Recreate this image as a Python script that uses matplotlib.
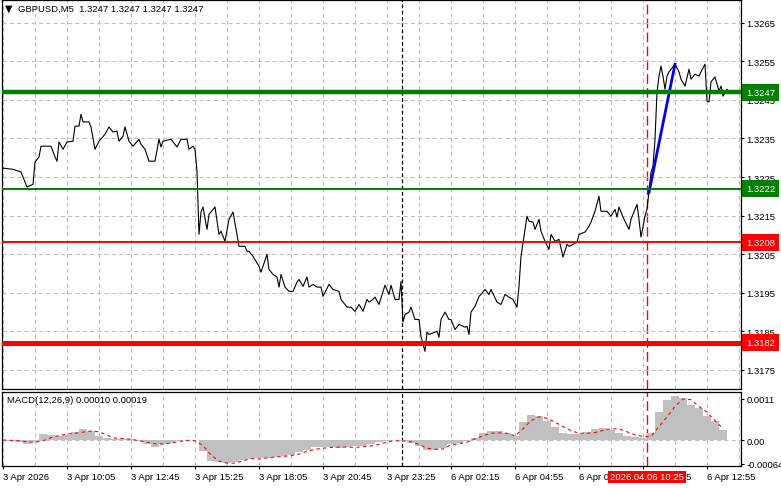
import numpy as np
import matplotlib
matplotlib.use('Agg')
import matplotlib.pyplot as plt
import matplotlib.transforms as mtrans

plt.rcParams['font.family'] = ['Liberation Sans', 'DejaVu Sans']
plt.rcParams['font.size'] = 6.8

# --- Textos ---
titulo_simbolo = 'GBPUSD,M5  1.3247 1.3247 1.3247 1.3247'
titulo_macd = 'MACD(12,26,9) 0.00010 0.00019'

# --- Preço de fechamento (índice da barra M5, preço) ---
barras_preco = [
    0, 5, 9, 12, 15, 16, 18, 19, 21, 24, 26, 27, 28, 30, 32, 35, 36, 38, 39, 40,
    43, 44, 46, 48, 51, 53, 55, 57, 58, 60, 61, 63, 65, 68, 69, 71, 73, 76, 78, 79,
    80, 84, 87, 89, 92, 93, 95, 96, 97, 98, 99, 100, 102, 103, 106, 108, 109, 111, 113, 115,
    118, 121, 122, 123, 125, 128, 129, 132, 133, 135, 137, 138, 139, 141, 143, 145, 147, 148, 150, 152,
    153, 155, 157, 159, 160, 163, 165, 168, 169, 172, 174, 176, 178, 180, 182, 183, 185, 186, 188, 191,
    193, 194, 196, 198, 199, 200, 201, 203, 204, 206, 208, 209, 211, 212, 213, 216, 217, 218, 219, 221,
    223, 224, 226, 228, 231, 232, 233, 234, 236, 238, 239, 241, 243, 244, 247, 249, 251, 253, 255, 257,
    258, 259, 261, 262, 263, 265, 266, 268, 269, 271, 273, 274, 276, 278, 280, 282, 283, 285, 287, 288,
    291, 293, 294, 296, 298, 299, 302, 304, 306, 307, 308, 310, 313, 314, 317, 318, 319, 321, 322, 323,
    324, 325, 326, 327, 328, 329, 330, 331, 332, 333, 335, 336, 338, 339, 341, 343, 344, 346, 348, 349,
    351, 352, 353, 354, 356, 358, 359, 360, 362, 363,
]
fechamento = [
    1.32273, 1.32270, 1.32263, 1.32224, 1.32231, 1.32289, 1.32302, 1.32330, 1.32330, 1.32330,
    1.32302, 1.32291, 1.32341, 1.32322, 1.32341, 1.32343, 1.32382, 1.32382, 1.32413, 1.32393,
    1.32393, 1.32380, 1.32322, 1.32343, 1.32361, 1.32380, 1.32367, 1.32369, 1.32343, 1.32356,
    1.32380, 1.32343, 1.32330, 1.32348, 1.32335, 1.32322, 1.32291, 1.32291, 1.32348, 1.32328,
    1.32343, 1.32348, 1.32328, 1.32348, 1.32348, 1.32322, 1.32330, 1.32322, 1.32265, 1.32101,
    1.32159, 1.32172, 1.32114, 1.32153, 1.32172, 1.32101, 1.32109, 1.32083, 1.32140, 1.32159,
    1.32070, 1.32070, 1.32057, 1.32057, 1.32044, 1.32018, 1.32003, 1.32049, 1.32010, 1.31997,
    1.31990, 1.31964, 1.31997, 1.31964, 1.31953, 1.31953, 1.31977, 1.31984, 1.31966, 1.31990,
    1.31964, 1.31971, 1.31964, 1.31964, 1.31940, 1.31971, 1.31958, 1.31953, 1.31932, 1.31912,
    1.31912, 1.31901, 1.31919, 1.31901, 1.31932, 1.31925, 1.31932, 1.31938, 1.31919, 1.31969,
    1.31945, 1.31969, 1.31932, 1.31932, 1.31979, 1.31873, 1.31893, 1.31899, 1.31912, 1.31880,
    1.31880, 1.31836, 1.31797, 1.31847, 1.31841, 1.31847, 1.31849, 1.31834, 1.31880, 1.31899,
    1.31880, 1.31880, 1.31854, 1.31867, 1.31860, 1.31862, 1.31841, 1.31899, 1.31914, 1.31940,
    1.31945, 1.31958, 1.31945, 1.31958, 1.31925, 1.31919, 1.31945, 1.31938, 1.31932, 1.31912,
    1.31966, 1.32044, 1.32114, 1.32148, 1.32135, 1.32133, 1.32114, 1.32140, 1.32109, 1.32083,
    1.32062, 1.32101, 1.32083, 1.32088, 1.32042, 1.32075, 1.32070, 1.32075, 1.32081, 1.32101,
    1.32107, 1.32122, 1.32133, 1.32161, 1.32200, 1.32161, 1.32161, 1.32148, 1.32166, 1.32146,
    1.32172, 1.32146, 1.32114, 1.32140, 1.32179, 1.32140, 1.32094, 1.32148, 1.32166, 1.32213,
    1.32263, 1.32278, 1.32348, 1.32471, 1.32512, 1.32538, 1.32512, 1.32478, 1.32512, 1.32523,
    1.32536, 1.32543, 1.32523, 1.32504, 1.32486, 1.32530, 1.32504, 1.32517, 1.32512, 1.32523,
    1.32543, 1.32447, 1.32445, 1.32497, 1.32510, 1.32473, 1.32486, 1.32460, 1.32478, 1.32470,
]

# --- Linha de tendência (azul) ---
barras_tendencia = [323, 336]
precos_tendencia = [1.3221, 1.32543]

# --- Níveis horizontais ---
niveis = [1.3247, 1.3222, 1.3208, 1.3182]
rotulos_niveis = ['1.3247', '1.3222', '1.3208', '1.3182']
cores_niveis = ['#008000', '#008000', '#ff0000', '#ff0000']
larguras_niveis = [3.2, 1.4, 1.4, 3.6]

# --- Eixos ---
ticks_preco = [1.3175, 1.3185, 1.3195, 1.3205, 1.3215, 1.3225, 1.3235, 1.3245, 1.3255, 1.3265]
ticks_tempo = [0, 32, 64, 96, 128, 160, 192, 224, 256, 288, 320, 352]
rotulos_tempo = ['3 Apr 2026', '3 Apr 10:05', '3 Apr 12:45', '3 Apr 15:25', '3 Apr 18:05',
                 '3 Apr 20:45', '3 Apr 23:25', '6 Apr 02:15', '6 Apr 04:55', '6 Apr 07:35',
                 '6 Apr 10:15', '6 Apr 12:55']
barra_separador = 199.5
barra_evento = 322
rotulo_evento = '2026.04.06 10:25'

# --- MACD (a cada 4 barras) ---
barras_macd = np.arange(0, 364, 4)
macd_hist = [
    0.0, -0.00002, -0.00006, -0.00012, -0.00005, 0.00015, 0.00014, 0.00012, 0.00014, 0.00022,
    0.00030, 0.00024, 0.00010, 0.00006, 0.00004, 0.00004, 0.00002, -0.00004, -0.00012, -0.00018,
    -0.00010, -0.00008, -0.00003, 0.00001, 0.0, -0.00030, -0.00055, -0.00060, -0.00062, -0.00058,
    -0.00054, -0.00050, -0.00048, -0.00047, -0.00046, -0.00042, -0.00040, -0.00033, -0.00026, -0.00020,
    -0.00018, -0.00020, -0.00021, -0.00019, -0.00017, -0.00016, -0.00012, -0.00006, -0.00002, 0.00001,
    -0.00003, -0.00008, -0.00015, -0.00026, -0.00028, -0.00022, -0.00010, -0.00008, -0.00004, 0.00006,
    0.00018, 0.00024, 0.00024, 0.00020, 0.00012, 0.00047, 0.00066, 0.00064, 0.00050, 0.00035,
    0.00018, 0.00015, 0.00016, 0.00022, 0.00030, 0.00032, 0.00028, 0.00018, 0.00012, 0.00008,
    0.00005, 0.00020, 0.00075, 0.00108, 0.00118, 0.00112, 0.00095, 0.00085, 0.00065, 0.00050,
    0.00028,
]
macd_sinal = [
    0.0, -0.00001, -0.00002, -0.00005, -0.00006, -0.00002, 0.00006, 0.00012, 0.00016, 0.00018,
    0.00021, 0.00024, 0.00022, 0.00013, 0.00005, 0.00004, 0.00002, -0.00002, -0.00006, -0.00010,
    -0.00011, -0.00008, -0.00004, -0.00001, -0.00002, -0.00015, -0.00040, -0.00057, -0.00062, -0.00062,
    -0.00056, -0.00050, -0.00051, -0.00048, -0.00046, -0.00044, -0.00042, -0.00038, -0.00030, -0.00025,
    -0.00022, -0.00020, -0.00019, -0.00019, -0.00020, -0.00018, -0.00016, -0.00012, -0.00005, -0.00002,
    -0.00002, -0.00005, -0.00012, -0.00022, -0.00025, -0.00024, -0.00013, -0.00010, -0.00006, 0.00003,
    0.00011, 0.00018, 0.00019, 0.00018, 0.00011, 0.00030, 0.00052, 0.00062, 0.00058, 0.00048,
    0.00036, 0.00025, 0.00018, 0.00018, 0.00020, 0.00026, 0.00030, 0.00030, 0.00022, 0.00014,
    0.00009, 0.00010, 0.00036, 0.00062, 0.00090, 0.00110, 0.00108, 0.00090, 0.00075, 0.00052,
    0.00030,
]
ticks_macd = [0.0011, 0.0, -0.00064]
rotulos_macd = ['0.0011', '0.00', '-0.00064']

# --- Layout em pixels ---
W, H = 781, 489
fig = plt.figure(figsize=(W / 100, H / 100), dpi=100)


def eixo_px(x0, y0, x1, y1, **kw):
    return fig.add_axes([x0 / W, 1 - y1 / H, (x1 - x0) / W, (y1 - y0) / H], **kw)


ax = eixo_px(2, 1, 741, 390)
ax2 = eixo_px(2, 393, 741, 467, sharex=ax)

cor_grade = '#c0c0c0'
estilo_grade = dict(color=cor_grade, linestyle=(0, (4, 3)), linewidth=0.75)

for a in (ax, ax2):
    for s in a.spines.values():
        s.set_linewidth(0.9)
        s.set_color('black')
    a.set_xlim(-0.5, 369)
    a.set_xticks(ticks_tempo)
    a.set_xticks(np.arange(16, 369, 32), minor=True)
    a.grid(which='both', axis='x', **estilo_grade)
    a.tick_params(axis='x', which='minor', length=0)
    a.yaxis.tick_right()
    a.tick_params(axis='y', direction='out', length=2.5, width=0.8, pad=1.5, labelsize=6.8)
    a.axvline(barra_separador, color='black', linestyle=(0, (3, 2)), linewidth=0.9, zorder=1.5)
    a.axvline(barra_evento, color='#ff0000', linestyle=(0, (7, 3)), linewidth=1.0, zorder=1.5)

# --- Painel principal ---
ax.set_ylim(1.316994, 1.327097)
ax.set_yticks(ticks_preco)
ax.set_yticklabels([f'{t:.4f}' for t in ticks_preco])
ax.grid(which='major', axis='y', **estilo_grade)
ax.tick_params(axis='x', which='both', bottom=False, labelbottom=False)

ax.plot(barras_preco, fechamento, color='black', linewidth=0.8, zorder=3)
ax.plot(barras_tendencia, precos_tendencia, color='#0000ff', linewidth=2.0, zorder=4)

trans_nivel = mtrans.blended_transform_factory(ax.transAxes, ax.transData)
for p, rot, cor, lw in zip(niveis, rotulos_niveis, cores_niveis, larguras_niveis):
    ax.axhline(p, color=cor, linewidth=lw, zorder=5)
    ax.text(1 + 5 / 739, p, rot, transform=trans_nivel, ha='left', va='center',
            color='white', fontsize=6.8, clip_on=False, zorder=10,
            bbox=dict(boxstyle='square,pad=0.4', fc=cor, ec='none'))

# --- Painel MACD ---
ax2.set_ylim(-0.000697, 0.001287)
ax2.set_yticks(ticks_macd)
ax2.set_yticklabels(rotulos_macd)
ax2.axhline(0, zorder=1, **estilo_grade)
ax2.bar(barras_macd, macd_hist, width=4, color='#c0c0c0', linewidth=0, zorder=2)
ax2.plot(barras_macd, macd_sinal, color='#ff0000', linewidth=0.8,
         linestyle=(0, (3, 3)), zorder=3)

ax2.set_xticklabels(rotulos_tempo)
ax2.tick_params(axis='x', which='major', direction='out', length=2.5, width=0.8,
                pad=2, labelsize=6.8)
for lbl in ax2.get_xticklabels():
    lbl.set_ha('left')

trans_evento = mtrans.blended_transform_factory(ax2.transData, ax2.transAxes)
ax2.text(barra_evento, -11 / 74, rotulo_evento, transform=trans_evento, ha='center',
         va='center', color='white', fontsize=6.8, clip_on=False, zorder=10,
         bbox=dict(boxstyle='square,pad=0.2', fc='#ff0000', ec='none'))

# --- Títulos ---
fig.text(5 / W, 1 - 9 / H, '▼', fontsize=7, ha='left', va='center', family='DejaVu Sans')
fig.text(18 / W, 1 - 9 / H, titulo_simbolo, fontsize=6.8, ha='left', va='center')
fig.text(7 / W, 1 - 401 / H, titulo_macd, fontsize=6.8, ha='left', va='center')

fig.savefig('out.png', dpi=100)
